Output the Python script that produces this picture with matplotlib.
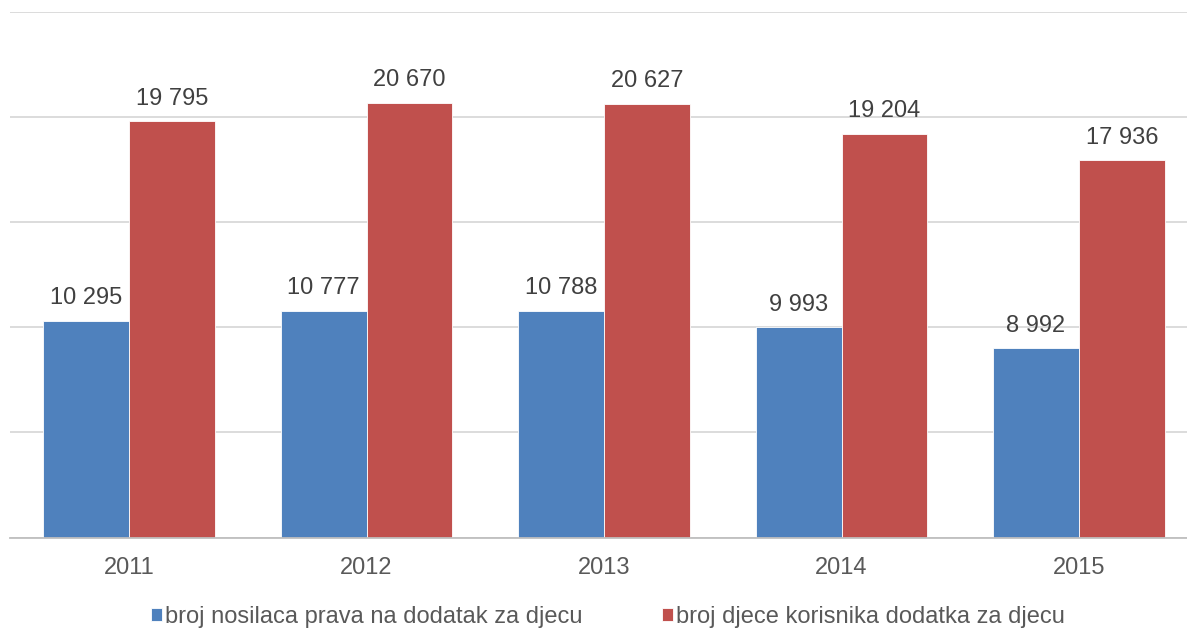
import matplotlib.pyplot as plt
import numpy as np

plt.rcParams["font.family"] = ["Liberation Sans", "DejaVu Sans"]

years = ["2011", "2012", "2013", "2014", "2015"]
nosioci = [10295, 10777, 10788, 9993, 8992]
djeca = [19795, 20670, 20627, 19204, 17936]
labels = ["broj nosilaca prava na dodatak za djecu",
          "broj djece korisnika dodatka za djecu"]

blue = "#4F81BD"
red = "#C0504D"

fig = plt.figure(figsize=(11.87, 6.29), dpi=100)
ax = fig.add_axes([10.25 / 1187, (629 - 537.5) / 629, 1 - 10.25 / 1187, (537.5 - 12) / 629])

x = np.arange(len(years))
w = 0.362
b1 = ax.bar(x - w / 2, nosioci, w, color=blue, edgecolor="white", linewidth=0.6, label=labels[0], zorder=2)
b2 = ax.bar(x + w / 2, djeca, w, color=red, edgecolor="white", linewidth=0.6, label=labels[1], zorder=2)

fmt = lambda v: f"{v:,.0f}".replace(",", " ")
for bars in (b1, b2):
    ax.bar_label(bars, labels=[fmt(b.get_height()) for b in bars],
                 padding=8.5, fontsize=17, color="#404040")

ax.set_xlim(-0.5, 4.5 - 10.75 / 237.5)
ax.set_ylim(0, 25000)
ax.set_yticks(np.arange(0, 25001, 5000))
ax.set_xticks(x)
ax.set_xticklabels(years, fontsize=17, color="#595959")
ax.tick_params(axis="x", length=0, pad=14)
ax.tick_params(axis="y", length=0, labelleft=False)
ax.yaxis.grid(True, color="#D9D9D9", linewidth=1.3, zorder=0)
ax.set_axisbelow(True)
for s in ["top", "right", "left"]:
    ax.spines[s].set_visible(False)
ax.spines["bottom"].set_color("#BFBFBF")
ax.spines["bottom"].set_linewidth(1.3)

leg = fig.legend(handles=[b1, b2], loc="center", bbox_to_anchor=(608 / 1187, 1 - 617 / 629),
                 ncol=2, frameon=False, fontsize=17, handlelength=0.45, handleheight=0.45,
                 handletextpad=0.12, columnspacing=3.4, labelcolor="#595959")

fig.savefig("out.png", dpi=100)
